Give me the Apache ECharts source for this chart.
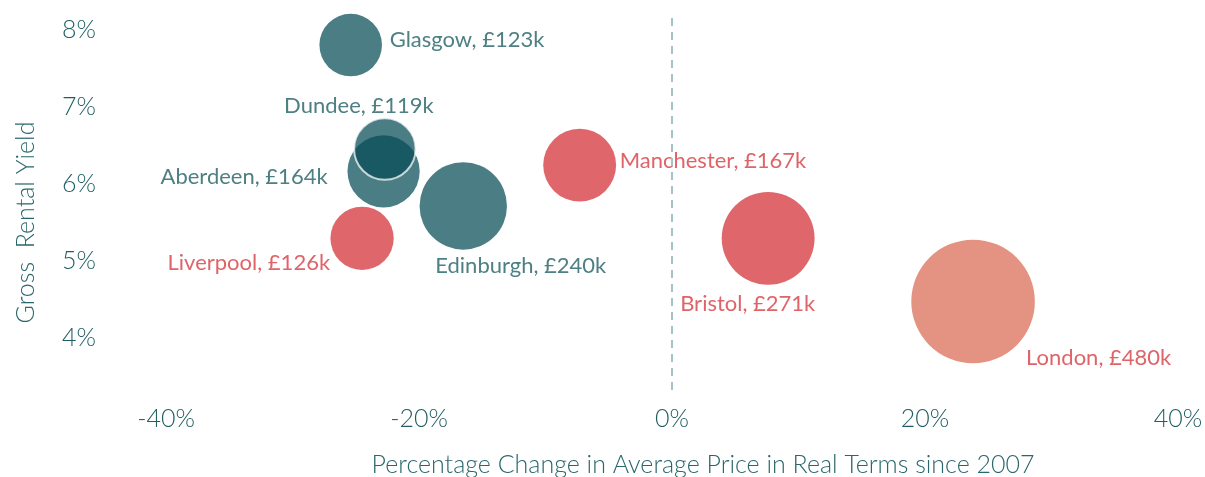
<!DOCTYPE html>
<html>
<head>
<meta charset="utf-8">
<script src="https://cdn.jsdelivr.net/npm/echarts@6/dist/echarts.min.js"></script>
<style>
  html, body { margin: 0; padding: 0; background: #ffffff; }
  #chart { width: 1205px; height: 477px; }
</style>
</head>
<body>
<div id="chart"></div>
<script>
// ---- Data ----
const cities      = ['Glasgow', 'Aberdeen', 'Dundee', 'Edinburgh', 'Liverpool', 'Manchester', 'Bristol', 'London'];
const regions     = ['Scotland', 'Scotland', 'Scotland', 'Scotland', 'England', 'England', 'England', 'London'];
const priceChange = [-25.4, -22.8, -22.7, -16.5, -24.5, -7.3, 7.6, 23.8];   // % change in real terms since 2007
const rentalYield = [7.81, 6.17, 6.46, 5.72, 5.30, 6.25, 5.30, 4.48];       // gross rental yield %
const avgPrice    = [123, 164, 119, 240, 126, 167, 271, 480];               // £k
const xTicks      = [-40, -20, 0, 20, 40];
const yTicks      = [4, 5, 6, 7, 8];

// ---- Styles ----
const regionColor = { Scotland: 'rgba(5,75,86,0.72)', England: 'rgba(211,43,50,0.72)', London: 'rgba(217,104,80,0.72)' };
const labelColor  = { Scotland: '#4d7f83', England: '#df6469', London: '#df6469' };
const labelPlace = {
  Glasgow:    { align: 'left',   dx: 39,  dy: -5 },
  Aberdeen:   { align: 'right',  dx: -56, dy: 6 },
  Dundee:     { align: 'center', dx: -26, dy: -43 },
  Edinburgh:  { align: 'left',   dx: -28, dy: 60 },
  Liverpool:  { align: 'right',  dx: -32, dy: 25 },
  Manchester: { align: 'left',   dx: 40,  dy: -4 },
  Bristol:    { align: 'left',   dx: -88, dy: 66 },
  London:     { align: 'left',   dx: 53,  dy: 56 }
};
const FONT = 'Lato, "Open Sans", sans-serif';
const AXIS_COLOR = '#1f5e63';

const seriesData = cities.map((name, i) => {
  const p = labelPlace[name];
  const item = {
    name: name,
    value: [priceChange[i], rentalYield[i], avgPrice[i]],
    itemStyle: { color: regionColor[regions[i]] },
    label: {
      align: p.align,
      offset: [p.dx, p.dy],
      color: labelColor[regions[i]]
    }
  };
  if (name === 'Dundee') {
    item.itemStyle.borderColor = 'rgba(255,255,255,0.72)';
    item.itemStyle.borderWidth = 2;
  }
  return item;
});

const chart = echarts.init(document.getElementById('chart'), null, { renderer: 'canvas' });
chart.setOption({
  animation: false,
  backgroundColor: '#ffffff',
  grid: { left: 166, right: 27, top: 15, bottom: 87, containLabel: false, outerBoundsMode: 'none' },
  xAxis: {
    type: 'value',
    min: -40, max: 40, interval: 20,
    axisLine: { show: false },
    axisTick: { show: false },
    splitLine: { show: false },
    axisLabel: {
      customValues: xTicks,
      formatter: v => v + '%',
      color: AXIS_COLOR, fontSize: 25, fontWeight: 300, fontFamily: FONT, margin: 16
    },
    name: 'Percentage Change in Average Price in Real Terms since 2007',
    nameLocation: 'middle',
    nameGap: 62,
    nameTextStyle: { color: '#2a676c', fontSize: 25, fontWeight: 300, fontFamily: FONT, padding: [0, 0, 0, 62] }
  },
  yAxis: {
    type: 'value',
    min: 3.33, max: 8.2,
    axisLine: { show: false },
    axisTick: { show: false },
    splitLine: { show: false },
    axisLabel: {
      customValues: yTicks,
      formatter: v => v + '%',
      color: AXIS_COLOR, fontSize: 25, fontWeight: 300, fontFamily: FONT, margin: 70
    },
    name: 'Gross  Rental Yield',
    nameLocation: 'middle',
    nameRotate: 90,
    nameGap: 128,
    nameTextStyle: { color: '#2a676c', fontSize: 25, fontWeight: 300, fontFamily: FONT, padding: [0, 40, 0, 0] }
  },
  series: [{
    type: 'scatter',
    symbol: 'circle',
    symbolSize: v => 2 * 2.82 * Math.sqrt(v[2]),
    itemStyle: { opacity: 1 },
    emphasis: { disabled: true },
    label: {
      show: true,
      position: 'inside',
      verticalAlign: 'middle',
      fontSize: 22,
      fontFamily: FONT,
      formatter: p => p.name + ', £' + p.value[2] + 'k'
    },
    markLine: {
      silent: true,
      symbol: ['none', 'none'],
      label: { show: false },
      lineStyle: { type: [8, 6], color: '#a7c2c4', width: 2 },
      data: [{ xAxis: 0 }]
    },
    data: seriesData
  }]
});
</script>
</body>
</html>
